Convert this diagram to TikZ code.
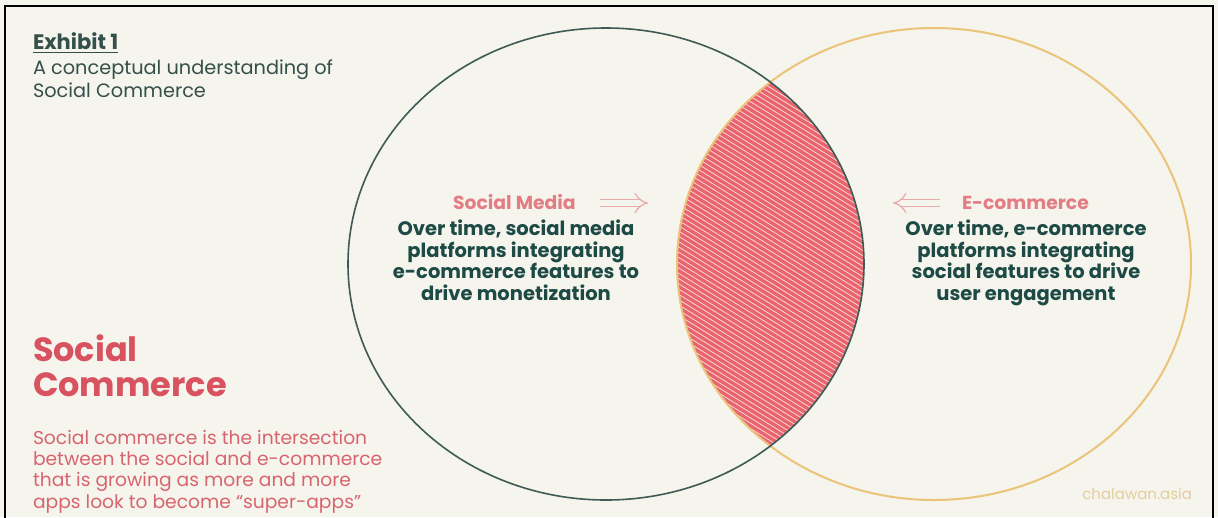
\documentclass[tikz,border=0pt]{standalone}
\usepackage{fontspec}
\setmainfont{Poppins}
\usetikzlibrary{arrows.meta}
\definecolor{bg}{HTML}{F5F4ED}
\definecolor{tealdark}{HTML}{1E4A45}
\definecolor{tealmid}{HTML}{35504B}
\definecolor{leftring}{HTML}{3E5B55}
\definecolor{rightring}{HTML}{EBC47A}
\definecolor{titlered}{HTML}{D8525F}
\definecolor{parared}{HTML}{D8646E}
\definecolor{labelpink}{HTML}{E27D84}
\definecolor{arrowpink}{HTML}{E8AAA8}
\definecolor{hatchred}{HTML}{EA6470}
\definecolor{hatchlight}{HTML}{F8DCD3}
\definecolor{gold}{HTML}{E3CF9C}
\tikzset{
  txt/.style={inner sep=0pt, outer sep=0pt},
  bodytext/.style={txt, align=center, text=tealdark, font=\fontsize{19.5}{21.5}\selectfont\bfseries},
  labeltext/.style={txt, text=labelpink, font=\fontsize{18.8}{20}\selectfont\bfseries},
  hollowarrow/.style={draw=arrowpink, line width=1.2pt, double=bg, double distance=6pt, -{Implies[length=10pt]}},
}
\begin{document}
\begin{tikzpicture}[x=1pt,y=-1pt]
\useasboundingbox (0,0) rectangle (1218,517);
\fill[bg] (0,0) rectangle (1218,517);
% frame
\draw[black, line width=2pt] (5,525) -- (5,6) -- (1213,6) -- (1213,525);

% lens hatch
\begin{scope}
  \clip (606,264) ellipse [x radius=258pt, y radius=236pt];
  \clip (934,264) ellipse [x radius=257pt, y radius=236pt];
  \fill[hatchlight] (600,0) rectangle (900,517);
  \foreach \k in {-50,...,50} {
    \draw[hatchred, line width=3.4pt] ({770+\k*8.5-300},{264-300*0.62}) -- ({770+\k*8.5+300},{264+300*0.62});
  }
\end{scope}

% circles
\draw[rightring, line width=2pt] (934,264) ellipse [x radius=257pt, y radius=236pt];
\draw[leftring, line width=1.6pt] (606,264) ellipse [x radius=258pt, y radius=236pt];

% header
\node[txt, anchor=base west, text=tealmid, font=\fontsize{21}{22}\selectfont\bfseries] (exh) at (33,49) {Exhibit 1};
\draw[tealmid, line width=1.1pt] (exh.south west) ++(0,3) coordinate (ul1) -- (exh.south east |- ul1);
\node[txt, anchor=base west, text=tealmid, font=\fontsize{19.3}{23}\selectfont, align=left] (sub) at (33,97) {A conceptual understanding of\\Social Commerce};

% social commerce title
\node[txt, anchor=base west, text=titlered, font=\fontsize{33.5}{35}\selectfont\bfseries, align=left] (title) at (33,396) {Social\\Commerce};
\node[txt, anchor=base west, text=parared, font=\fontsize{18.7}{21.3}\selectfont, align=left] (para) at (33,508) {Social commerce is the intersection\\between the social and e-commerce\\that is growing as more and more\\apps look to become ``super-apps''};

% social media
\node[labeltext, anchor=base west] (smlabel) at (453,209) {Social Media};
\coordinate (sma1) at (600,203);
\coordinate (sma2) at (648,203);
\draw[hollowarrow] (sma1) -- (sma2);
\node[bodytext, anchor=base] (smbody) at (516,300) {Over time, social media\\platforms integrating\\e-commerce features to\\drive monetization};

% e-commerce
\node[labeltext, anchor=base west] (eclabel) at (962,209) {E-commerce};
\coordinate (eca1) at (940,203);
\coordinate (eca2) at (893,203);
\draw[hollowarrow] (eca1) -- (eca2);
\node[bodytext, anchor=base] (ecbody) at (1026,300) {Over time, e-commerce\\platforms integrating\\social features to drive\\user engagement};

% credit
\node[txt, anchor=base east, text=gold, font=\fontsize{15}{16}\selectfont] (credit) at (1192,499) {chalawan.asia};
\end{tikzpicture}
\end{document}
